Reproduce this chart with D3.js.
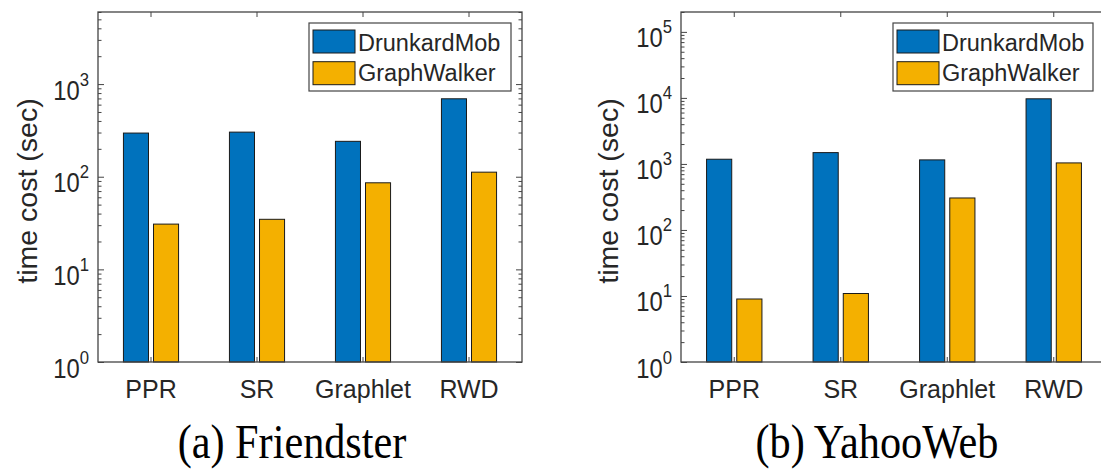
<!DOCTYPE html>
<html>
<head>
<meta charset="utf-8">
<script src="https://cdn.jsdelivr.net/npm/d3@7"></script>
<style>
  html, body { margin: 0; padding: 0; background: #fff; }
  svg { display: block; }
  .ax text { font-family: "Liberation Sans", Arial, sans-serif; fill: #262626; }
</style>
</head>
<body>
<svg id="chart" width="1101" height="473"></svg>
<script>
// data
var categories = ['PPR', 'SR', 'Graphlet', 'RWD'];
var seriesNames = ['DrunkardMob', 'GraphWalker'];
var friendsterDrunkard = [296, 303, 241, 694];
var friendsterWalker = [30.8, 34.7, 86, 112];
var yahooDrunkard = [1178, 1484, 1151, 9690];
var yahooWalker = [9.0, 10.9, 305, 1036];
var captions = ['(a) Friendster', '(b) YahooWeb'];

var colors = { 'DrunkardMob': '#0072BD', 'GraphWalker': '#F4B000' };

var svg = d3.select('#chart');

var panels = [
    { values: [friendsterDrunkard, friendsterWalker], caption: captions[0],
      x0: 98, x1: 522, y0: 12, y1: 362, ymax: 6000, labelX: 37, capX: 292,
      legend: { x: 309, y: 23, w: 202, h: 68 } },
    { values: [yahooDrunkard, yahooWalker], caption: captions[1],
      x0: 681, x1: 1107, y0: 12, y1: 362, ymax: 2e5, labelX: 618, capX: 877,
      legend: { x: 893, y: 23, w: 200, h: 68 } }
];

function drawPanel(p) {
    var g = svg.append('g').attr('class', 'ax');

    var x = d3.scaleBand().domain(categories).range([p.x0, p.x1]).padding(0);
    var bw = x.bandwidth();
    var xs = d3.scaleBand().domain(seriesNames)
        .range([-0.26 * bw, 0.26 * bw]).paddingInner(0.167);
    var y = d3.scaleLog().domain([1, p.ymax]).range([p.y1, p.y0]);

    var all = y.ticks();
    var majors = all.filter(function (v) { return Math.abs(Math.log10(v) - Math.round(Math.log10(v))) < 1e-9; });
    var minors = all.filter(function (v) { return majors.indexOf(v) < 0; });

    // bars
    seriesNames.forEach(function (name, si) {
        g.append('g').selectAll('rect')
            .data(p.values[si])
            .enter().append('rect')
            .attr('x', function (d, i) { return x(categories[i]) + bw / 2 + xs(name); })
            .attr('width', xs.bandwidth())
            .attr('y', function (d) { return y(d); })
            .attr('height', function (d) { return y(1) - y(d); })
            .attr('fill', colors[name])
            .attr('stroke', '#1a1a1a')
            .attr('stroke-width', 1);
    });

    function style(sel) {
        sel.select('.domain').remove();
        sel.selectAll('line').attr('stroke', '#444').attr('stroke-width', 1);
    }

    // y axes, ticks pointing inwards
    g.append('g').attr('transform', 'translate(' + p.x0 + ',0)')
        .call(d3.axisLeft(y).tickValues(minors).tickSize(-3.5).tickFormat('')).call(style);
    g.append('g').attr('transform', 'translate(' + p.x1 + ',0)')
        .call(d3.axisRight(y).tickValues(minors).tickSize(-3.5).tickFormat('')).call(style);
    g.append('g').attr('transform', 'translate(' + p.x1 + ',0)')
        .call(d3.axisRight(y).tickValues(majors).tickSize(-6).tickFormat('')).call(style);
    var left = g.append('g').attr('transform', 'translate(' + p.x0 + ',0)')
        .call(d3.axisLeft(y).tickValues(majors).tickSize(-6).tickFormat('')).call(style);

    left.selectAll('.tick text').remove();
    var lab = left.selectAll('.tick').append('text')
        .attr('text-anchor', 'end')
        .attr('transform', 'translate(-9,15) scale(0.88,1)')
        .style('font-size', '27px');
    lab.append('tspan').text('10');
    lab.append('tspan')
        .attr('dy', -14)
        .style('font-size', '19px')
        .text(function (d) { return Math.round(Math.log10(d)); });

    // x axes (band axis already ticks at band centres)
    g.append('g').attr('transform', 'translate(0,' + p.y0 + ')')
        .call(d3.axisTop(x).tickSize(-5).tickFormat('')).call(style);
    var bottom = g.append('g').attr('transform', 'translate(0,' + p.y1 + ')')
        .call(d3.axisBottom(x).tickSize(-5).tickPadding(18)).call(style);
    bottom.selectAll('text').style('font-size', '25px');

    // box
    g.append('rect')
        .attr('x', p.x0).attr('y', p.y0)
        .attr('width', p.x1 - p.x0).attr('height', p.y1 - p.y0)
        .attr('fill', 'none').attr('stroke', '#444').attr('stroke-width', 1.3);

    // y label
    g.append('text')
        .attr('transform', 'translate(' + p.labelX + ',' + ((p.y0 + p.y1) / 2 + 4) + ') rotate(-90)')
        .attr('text-anchor', 'middle')
        .style('font-size', '28.5px')
        .text('time cost (sec)');

    // legend
    var L = p.legend;
    var lg = g.append('g');
    lg.append('rect')
        .attr('x', L.x).attr('y', L.y).attr('width', L.w).attr('height', L.h)
        .attr('fill', '#fff').attr('stroke', '#444').attr('stroke-width', 1.2);
    seriesNames.forEach(function (name, i) {
        lg.append('rect')
            .attr('x', L.x + 4).attr('y', L.y + 7 + i * 31.7)
            .attr('width', 42).attr('height', 23)
            .attr('fill', colors[name]).attr('stroke', '#1a1a1a').attr('stroke-width', 1);
        lg.append('text')
            .attr('x', L.x + 49).attr('y', L.y + 28 + i * 30)
            .style('font-size', '23.5px')
            .text(name);
    });

    // caption
    svg.append('text')
        .attr('transform', 'translate(' + p.capX + ',458) scale(0.88,1)')
        .attr('text-anchor', 'middle')
        .style('font-family', '"Liberation Serif", "Times New Roman", serif')
        .style('font-size', '48px')
        .attr('fill', '#000')
        .text(p.caption);
}

panels.forEach(drawPanel);
</script>
</body>
</html>
